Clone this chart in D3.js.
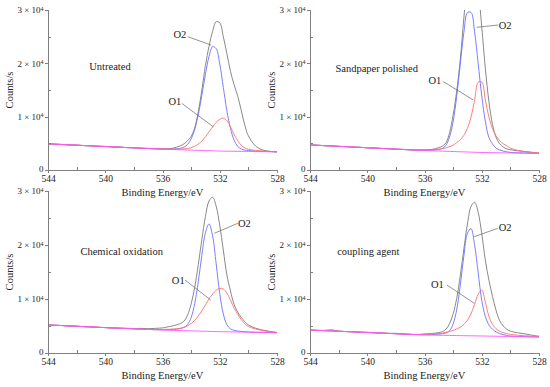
<!DOCTYPE html>
<html>
<head>
<meta charset="UTF-8">
<title>O 1s spectra</title>
<style>
    body { margin: 0; background: #fff; }
    svg, svg text { font-family: "Liberation Serif", "DejaVu Serif", "Times New Roman", serif; fill: #222; }
    .axis path, .axis line { stroke: #808080; fill: none; shape-rendering: crispEdges; }
    .line { fill: none; stroke-width: 0.9px; }
    .raw { stroke: #7a7a7a; }
    .o2 { stroke: #6f6fff; }
    .o1 { stroke: #ff6f6f; }
    .bg { stroke: #ff55ff; }
    .leader { stroke: #666; stroke-width: 0.7px; }
</style>
</head>
<body>
<script src="https://cdn.jsdelivr.net/npm/d3@7"></script>
<script>
    var serif = "'Liberation Serif', 'DejaVu Serif', serif";

    // binding energy grid (eV), shared by all four spectra
    var energy = [544, 543.5, 543, 542.5, 542, 541.5, 541, 540.5, 540, 539.5, 539, 538.5, 538, 537.5, 537, 536.5,
        536, 535.75, 535.5, 535.25, 535, 534.75, 534.5, 534.25, 534, 533.75, 533.5, 533.25, 533, 532.75, 532.5,
        532.25, 532, 531.75, 531.5, 531.25, 531, 530.75, 530.5, 530.25, 530,
        529.5, 529, 528.5, 528];

    // Untreated
    var untreatedRaw = [4920, 4830, 4800, 4690, 4680, 4570, 4550, 4440, 4430, 4320, 4300, 4190, 4180, 4070, 4060, 3980,
        3950, 3960, 4000, 4100, 4300, 4550, 4900, 5500, 6300, 7900, 10900, 15000, 19600, 23200, 26000,
        27800, 27600, 25000, 21800, 18500, 16000, 13900, 11200, 8400, 6400,
        4500, 3750, 3500, 3380];
    var untreatedO1 = [4900, 4840, 4775, 4710, 4650, 4590, 4525, 4460, 4400, 4340, 4275, 4210, 4150, 4090, 4025, 3990,
        3950, 3935, 3915, 3910, 3910, 3940, 3970, 4025, 4175, 4440, 4860, 5430, 6225, 7165, 8105,
        8935, 9500, 9700, 9250, 8100, 6680, 5500, 4645, 4135, 3895,
        3675, 3560, 3480, 3430];
    var untreatedO2 = [4900, 4840, 4775, 4710, 4650, 4590, 4525, 4460, 4400, 4340, 4275, 4210, 4150, 4090, 4025, 3980,
        3930, 3920, 3915, 3935, 3980, 4070, 4290, 4795, 5825, 7600, 10400, 14030, 17935, 21285, 23120,
        22750, 19860, 15490, 11080, 7770, 5610, 4450, 3945, 3735, 3645,
        3545, 3490, 3450, 3420];
    var untreatedBg = [4900, 4840, 4775, 4710, 4650, 4590, 4525, 4460, 4400, 4340, 4275, 4210, 4150, 4090, 4025, 3960,
        3900, 3880, 3855, 3835, 3810, 3790, 3770, 3745, 3725, 3700, 3680, 3660, 3635, 3615, 3595,
        3570, 3550, 3540, 3530, 3520, 3510, 3500, 3495, 3485, 3475,
        3455, 3440, 3420, 3400];

    // Sandpaper polished
    var sandedRaw = [4720, 4650, 4560, 4520, 4430, 4390, 4290, 4260, 4160, 4130, 4030, 4000, 3900, 3870, 3790, 3740,
        3770, 3790, 3860, 3980, 4210, 4450, 5100, 7000, 10300, 14800, 20720, 28490, 35320, 39190, 38700,
        34040, 26810, 19090, 12860, 8550, 6140, 4920, 4310, 3950, 3800,
        3600, 3450, 3300, 3180];
    var sandedO1 = [4700, 4635, 4570, 4500, 4440, 4370, 4305, 4240, 4175, 4110, 4045, 3980, 3910, 3845, 3800, 3760,
        3730, 3740, 3770, 3820, 3900, 4000, 4150, 4380, 4650, 5130, 5670, 6500, 7820, 9940, 13070,
        16450, 16500, 13150, 9960, 7760, 6390, 5500, 4930, 4530, 4100,
        3700, 3480, 3320, 3200];
    var sandedO2 = [4700, 4635, 4570, 4500, 4440, 4370, 4305, 4240, 4175, 4110, 4045, 3980, 3910, 3845, 3780, 3740,
        3730, 3727, 3734, 3761, 3838, 4035, 4662, 6189, 9066, 13818, 19850, 25747, 29499, 29557, 25891,
        19975, 13870, 9129, 6108, 4900, 4100, 3750, 3550, 3400, 3300,
        3238, 3195, 3153, 3120];
    var sandedBg = [4700, 4635, 4570, 4500, 4440, 4370, 4305, 4240, 4175, 4110, 4045, 3980, 3910, 3845, 3780, 3715,
        3650, 3627, 3604, 3581, 3558, 3535, 3512, 3489, 3466, 3443, 3420, 3397, 3374, 3351, 3328,
        3305, 3280, 3269, 3258, 3246, 3235, 3224, 3213, 3201, 3190,
        3168, 3145, 3123, 3100];

    // Chemical oxidation
    var oxidizedRaw = [5230, 5120, 5090, 4980, 4970, 4870, 4850, 4740, 4720, 4630, 4600, 4580, 4520, 4560, 4500, 4560,
        4650, 4780, 4910, 5040, 5230, 5460, 5890, 7020, 9100, 12170, 16360, 21020, 25290, 28140, 28840,
        27180, 23600, 19050, 14430, 11500, 9000, 7600, 6600, 5800, 5200,
        4600, 4250, 4000, 3800];
    var oxidizedO1 = [5200, 5140, 5075, 5010, 4950, 4890, 4825, 4760, 4700, 4645, 4590, 4530, 4475, 4420, 4365, 4340,
        4370, 4381, 4402, 4444, 4495, 4586, 4737, 5019, 5450, 6037, 6855, 7836, 8911, 9979, 10926,
        11625, 11968, 11850, 11073, 9788, 8303, 7200, 6200, 5400, 4900,
        4450, 4150, 3950, 3800];
    var oxidizedO2 = [5200, 5140, 5075, 5010, 4950, 4890, 4825, 4760, 4700, 4645, 4590, 4530, 4475, 4420, 4365, 4330,
        4310, 4311, 4322, 4354, 4415, 4536, 4737, 5269, 6550, 9131, 13176, 18114, 22275, 23906, 21717,
        16509, 11000, 7237, 5225, 4462, 4200, 4067, 3995, 3942, 3910,
        3855, 3820, 3785, 3750];
    var oxidizedBg = [5200, 5140, 5075, 5010, 4950, 4890, 4825, 4760, 4700, 4645, 4590, 4530, 4475, 4420, 4365, 4305,
        4250, 4231, 4212, 4194, 4175, 4156, 4137, 4119, 4100, 4081, 4062, 4044, 4025, 4006, 3987,
        3969, 3950, 3937, 3925, 3912, 3900, 3887, 3875, 3862, 3850,
        3825, 3800, 3775, 3750];

    // coupling agent
    var coupledRaw = [4270, 4180, 4180, 4300, 4060, 3960, 3950, 3840, 3830, 3760, 3700, 3640, 3650, 3530, 3470, 3420,
        3530, 3570, 3610, 3680, 3790, 3970, 4410, 5450, 7240, 10120, 14330, 19250, 23900, 27120, 27920,
        26050, 22100, 17200, 13500, 10500, 7900, 6000, 5000, 4400, 4050,
        3750, 3550, 3300, 3100];
    var coupledO1 = [4250, 4195, 4140, 4080, 4025, 3970, 3915, 3855, 3800, 3740, 3680, 3625, 3565, 3505, 3445, 3420,
        3450, 3470, 3500, 3540, 3590, 3690, 3820, 3990, 4190, 4432, 4781, 5298, 6084, 7280, 8988,
        10877, 11683, 9423, 6788, 5291, 4494, 4044, 3767, 3585, 3459,
        3295, 3194, 3124, 3070];
    var coupledO2 = [4250, 4195, 4140, 4080, 4025, 3970, 3915, 3855, 3800, 3740, 3680, 3625, 3565, 3505, 3445, 3400,
        3390, 3399, 3408, 3436, 3485, 3574, 3713, 4101, 5390, 8029, 12538, 17946, 22155, 23024, 20053,
        14861, 9730, 6800, 5200, 4400, 3900, 3600, 3400, 3250, 3150,
        3080, 3030, 2994, 2960];
    var coupledBg = [4250, 4195, 4140, 4080, 4025, 3970, 3915, 3855, 3800, 3740, 3680, 3625, 3565, 3505, 3445, 3390,
        3330, 3319, 3308, 3296, 3285, 3274, 3263, 3251, 3240, 3229, 3218, 3206, 3195, 3184, 3173,
        3161, 3150, 3138, 3126, 3114, 3102, 3090, 3078, 3066, 3055,
        3031, 3008, 2984, 2960];

    var xTicks = [544, 540, 536, 532, 528];
    var xMinor = [542, 538, 534, 530];
    var yTicks = [0, 10000, 20000, 30000];
    var yMinor = [5000, 15000, 25000];
    var panelNames = ["Untreated", "Sandpaper polished", "Chemical oxidation", "coupling agent"];

    // label anchors in data units: [eV, counts]
    var panels = [
        {name: panelNames[0], raw: untreatedRaw, o1: untreatedO1, o2: untreatedO2, bg: untreatedBg,
            label: [539.67, 19500],
            o2Text: [534.78, 25500], o2Line: [[534.24, 25000], [532.61, 23440]],
            o1Text: [535.13, 12800], o1Line: [[534.66, 12500], [532.45, 8100]]},
        {name: panelNames[1], raw: sandedRaw, o1: sandedO1, o2: sandedO2, bg: sandedBg,
            label: [539.34, 19070],
            o2Text: [530.37, 27190], o2Line: [[530.84, 27190], [532.35, 26760]],
            o1Text: [535.27, 16875], o1Line: [[534.68, 16560], [532.59, 13130]]},
        {name: panelNames[2], raw: oxidizedRaw, o1: oxidizedO1, o2: oxidizedO2, bg: oxidizedBg,
            label: [538.85, 18760],
            o2Text: [530.28, 24020], o2Line: [[530.74, 24020], [532.38, 22170]],
            o1Text: [534.9, 13520], o1Line: [[534.43, 13520], [532.63, 9815]]},
        {name: panelNames[3], raw: coupledRaw, o1: coupledO1, o2: coupledO2, bg: coupledBg,
            label: [539.93, 18890],
            o2Text: [530.37, 23280], o2Line: [[530.88, 23090], [532.52, 21540]],
            o1Text: [535.1, 12780], o1Line: [[534.43, 12590], [532.52, 9200]]}
    ];

    var width = 550, height = 387;
    var cols = [48, 310], plotW = 229;
    var rows = [{top: 10, h: 160}, {top: 191, h: 162}];

    var svg = d3.select("body").append("svg")
        .attr("width", width)
        .attr("height", height)
        .style("font-family", serif);

    panels.forEach(function(p, i) {
        var left = cols[i % 2], row = rows[Math.floor(i / 2)];

        var x = d3.scaleLinear().domain([544, 528]).range([0, plotW]);
        var y = d3.scaleLinear().domain([0, 30000]).range([row.h, 0]);

        var g = svg.append("g")
            .attr("transform", `translate(${left},${row.top})`);

        g.append("clipPath").attr("id", "clip" + i)
            .append("rect").attr("x", 0).attr("y", 0).attr("width", plotW).attr("height", row.h);

        var line = d3.line()
            .x((d) => x(d[0]))
            .y((d) => y(d[1]))
            .curve(d3.curveCatmullRom.alpha(0.5));

        var plot = g.append("g").attr("clip-path", `url(#clip${i})`);
        [["raw", p.raw], ["o2", p.o2], ["o1", p.o1], ["bg", p.bg]].forEach(function(s) {
            plot.append("path")
                .datum(energy.map((e, k) => [e, s[1][k]]))
                .attr("class", "line " + s[0])
                .attr("d", line);
        });

        // x axis, major ticks out and minor ticks in
        var xAxis = g.append("g")
            .attr("class", "x axis")
            .attr("transform", `translate(0,${row.h})`)
            .call(d3.axisBottom(x).tickValues(xTicks).tickSize(3).tickPadding(2).tickFormat(d3.format("d")));
        xAxis.attr("font-family", serif).attr("font-size", 9.5);
        g.append("g")
            .attr("class", "x axis minor")
            .attr("transform", `translate(0,${row.h})`)
            .call(d3.axisTop(x).tickValues(xMinor).tickSize(3).tickFormat(""))
            .select(".domain").remove();

        var yAxis = g.append("g")
            .attr("class", "y axis")
            .call(d3.axisLeft(y).tickValues(yTicks).tickSize(3).tickPadding(1.5));
        yAxis.attr("font-family", serif).attr("font-size", 9);
        yAxis.selectAll(".tick text").each(function(d) {
            var t = d3.select(this).text("");
            if (d === 0) { t.text("0").attr("dy", "0.2em"); return; }
            t.append("tspan").text((d / 10000) + " \u00d7 10");
            t.append("tspan").attr("dy", "-0.45em").style("font-size", "6px").text("4");
        });
        g.append("g")
            .attr("class", "y axis minor")
            .call(d3.axisRight(y).tickValues(yMinor).tickSize(3).tickFormat(""))
            .select(".domain").remove();

        g.append("text")
            .attr("x", plotW / 2)
            .attr("y", row.h + 26)
            .attr("text-anchor", "middle")
            .style("font-family", serif)
            .style("font-size", "10.5px")
            .text("Binding Energy/eV");

        g.append("text")
            .attr("transform", `translate(-35,${row.h / 2}) rotate(-90)`)
            .attr("text-anchor", "middle")
            .style("font-family", serif)
            .style("font-size", "10.5px")
            .text("Counts/s");

        g.append("text")
            .attr("x", x(p.label[0]))
            .attr("y", y(p.label[1]))
            .attr("dy", "0.35em")
            .attr("text-anchor", "middle")
            .style("font-family", serif)
            .style("font-size", "10.5px")
            .text(p.name);

        [["O2", p.o2Text, p.o2Line], ["O1", p.o1Text, p.o1Line]].forEach(function(a) {
            g.append("line")
                .attr("class", "leader")
                .attr("x1", x(a[2][0][0])).attr("y1", y(a[2][0][1]))
                .attr("x2", x(a[2][1][0])).attr("y2", y(a[2][1][1]));
            g.append("text")
                .attr("x", x(a[1][0]))
                .attr("y", y(a[1][1]))
                .attr("dy", "0.35em")
                .attr("text-anchor", "middle")
                .style("font-family", serif)
                .style("font-size", "10.5px")
                .text(a[0]);
        });
    });
</script>
</body>
</html>
